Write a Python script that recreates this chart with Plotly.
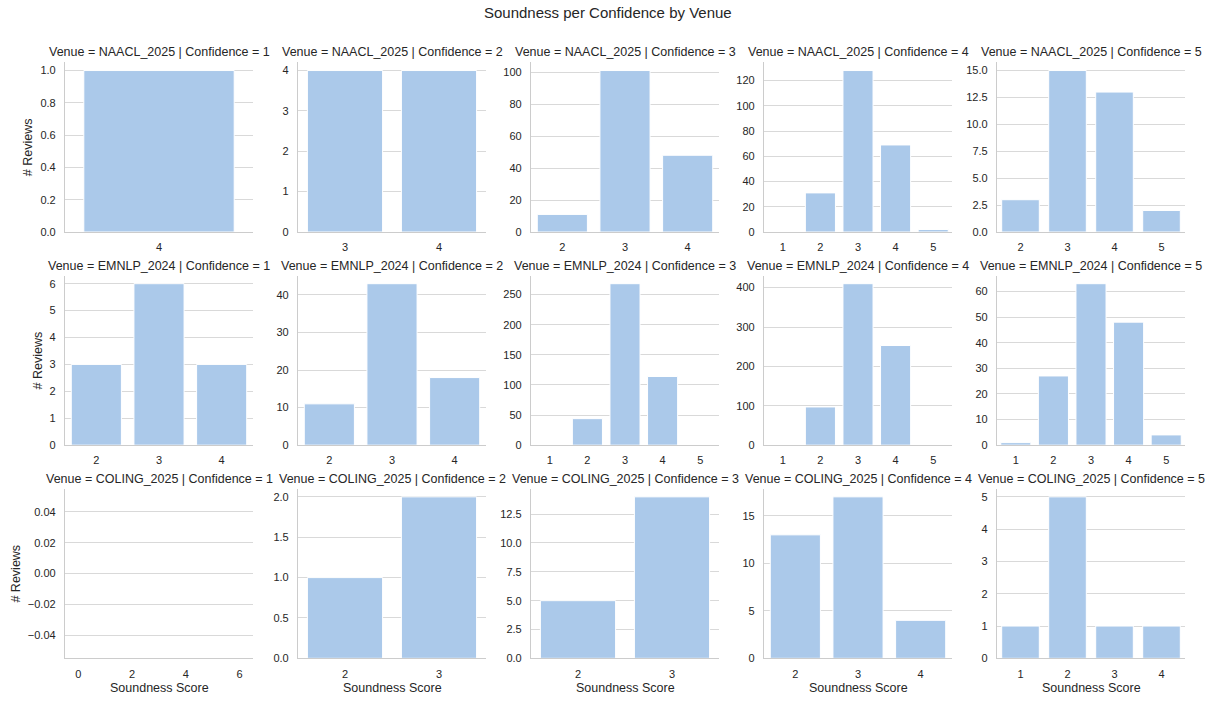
import plotly.graph_objects as go

venues = ["NAACL_2025", "EMNLP_2024", "COLING_2025"]
confidences = [1, 2, 3, 4, 5]

naacl_scores = [[4], [3, 4], [2, 3, 4], [1, 2, 3, 4, 5], [2, 3, 4, 5]]
naacl_counts = [[1], [4, 4], [11, 101, 48], [0, 31, 128, 69, 2], [3, 15, 13, 2]]
emnlp_scores = [[2, 3, 4], [2, 3, 4], [1, 2, 3, 4, 5], [1, 2, 3, 4, 5], [1, 2, 3, 4, 5]]
emnlp_counts = [[3, 6, 3], [11, 43, 18], [0, 44, 268, 114, 0], [0, 97, 410, 253, 0], [1, 27, 63, 48, 4]]
coling_scores = [[], [2, 3], [2, 3], [2, 3, 4], [1, 2, 3, 4]]
coling_counts = [[], [1, 2], [5, 14], [13, 17, 4], [1, 5, 1, 1]]

scores = [naacl_scores, emnlp_scores, coling_scores]
counts = [naacl_counts, emnlp_counts, coling_counts]

# tick spacing per panel (style)
dticks = [[0.2, 1, 20, 20, 2.5], [1, 10, 50, 100, 10], [0.02, 0.5, 2.5, 5, 1]]
tfmts = [[".1f", "d", "d", "d", ".1f"], ["d", "d", "d", "d", "d"], [".2f", ".1f", ".1f", "d", "d"]]
ylabel_x = [28, 38, 16]

W, H = 1215, 702
BAR = "#abc9ea"
SPINE = "#cccccc"
GRID = "#d9d9d9"
TXT = "#262626"
FONT = "Liberation Sans, Arial, sans-serif"

fig = go.Figure()
layout = dict(
    width=W, height=H,
    margin=dict(l=0, r=0, t=0, b=0),
    paper_bgcolor="white", plot_bgcolor="white",
    showlegend=False, bargap=0.2,
    font=dict(family=FONT, color=TXT, size=11),
)
annotations = []

for r in range(3):
    for c in range(5):
        k = r * 5 + c + 1
        xa = "xaxis" if k == 1 else f"xaxis{k}"
        ya = "yaxis" if k == 1 else f"yaxis{k}"
        xr = "x" if k == 1 else f"x{k}"
        yr = "y" if k == 1 else f"y{k}"
        left = 65 + 233 * c
        top = 63 + 215 * r
        xd = [left / W, (left + 188) / W]
        yd = [1 - (top + 171) / H, 1 - top / H]
        sc = scores[r][c]
        ct = counts[r][c]
        if sc:
            fig.add_trace(go.Bar(
                x=[str(s) for s in sc], y=ct, xaxis=xr, yaxis=yr,
                marker=dict(color=BAR, line=dict(color="white", width=1)),
                hoverinfo="x+y",
            ))
            xcfg = dict(type="category", categoryorder="array",
                        categoryarray=[str(s) for s in sc],
                        range=[-0.5, len(sc) - 0.5])
            ycfg = dict(range=[0, max(ct) * 1.05])
        else:
            fig.add_trace(go.Bar(x=[], y=[], xaxis=xr, yaxis=yr))
            xcfg = dict(type="linear", range=[-0.5, 6.5], dtick=2, tick0=0)
            ycfg = dict(range=[-0.055, 0.055])
        layout[xa] = dict(
            domain=xd, anchor=yr, showgrid=False, zeroline=False,
            showline=True, linecolor=SPINE, linewidth=1.25,
            ticks="", ticklabelstandoff=5,
            tickfont=dict(size=11, color=TXT, family=FONT),
            fixedrange=True, **xcfg,
        )
        layout[ya] = dict(
            domain=yd, anchor=xr, showgrid=True, gridcolor=GRID, gridwidth=1,
            zeroline=False, showline=True, linecolor=SPINE, linewidth=1.25,
            ticks="", ticklabelstandoff=6, dtick=dticks[r][c], tick0=0,
            tickformat=tfmts[r][c],
            tickfont=dict(size=11, color=TXT, family=FONT),
            fixedrange=True, **ycfg,
        )
        annotations.append(dict(
            text=f"Venue = {venues[r]} | Confidence = {confidences[c]}",
            x=(xd[0] + xd[1]) / 2, y=yd[1], xref="paper", yref="paper",
            xanchor="center", yanchor="bottom", yshift=1, showarrow=False,
            font=dict(size=12.5, color=TXT, family=FONT),
        ))
        if c == 0:
            annotations.append(dict(
                text="# Reviews", textangle=-90,
                x=ylabel_x[r] / W, y=(yd[0] + yd[1]) / 2, xref="paper", yref="paper",
                xanchor="center", yanchor="middle", showarrow=False,
                font=dict(size=12.5, color=TXT, family=FONT),
            ))
        if r == 2:
            annotations.append(dict(
                text="Soundness Score",
                x=(xd[0] + xd[1]) / 2, y=0, xref="paper", yref="paper",
                xanchor="center", yanchor="bottom", borderpad=0, showarrow=False,
                font=dict(size=12.5, color=TXT, family=FONT),
            ))

annotations.append(dict(
    text="Soundness per Confidence by Venue",
    x=0.5, y=1 - 13 / H, xref="paper", yref="paper",
    xanchor="center", yanchor="middle", showarrow=False,
    font=dict(size=15, color=TXT, family=FONT),
))
layout["annotations"] = annotations
fig.update_layout(**layout)

post = (
    "document.documentElement.style.margin='0';"
    "document.body.style.margin='0';"
    "document.documentElement.style.overflow='hidden';"
    "document.body.style.overflow='hidden';"
    "var gd=document.getElementById('{plot_id}');"
    "gd.style.position='fixed';gd.style.left='0px';gd.style.top='0px';"
)
fig.write_html("out.html", config={"displayModeBar": False}, post_script=post)
